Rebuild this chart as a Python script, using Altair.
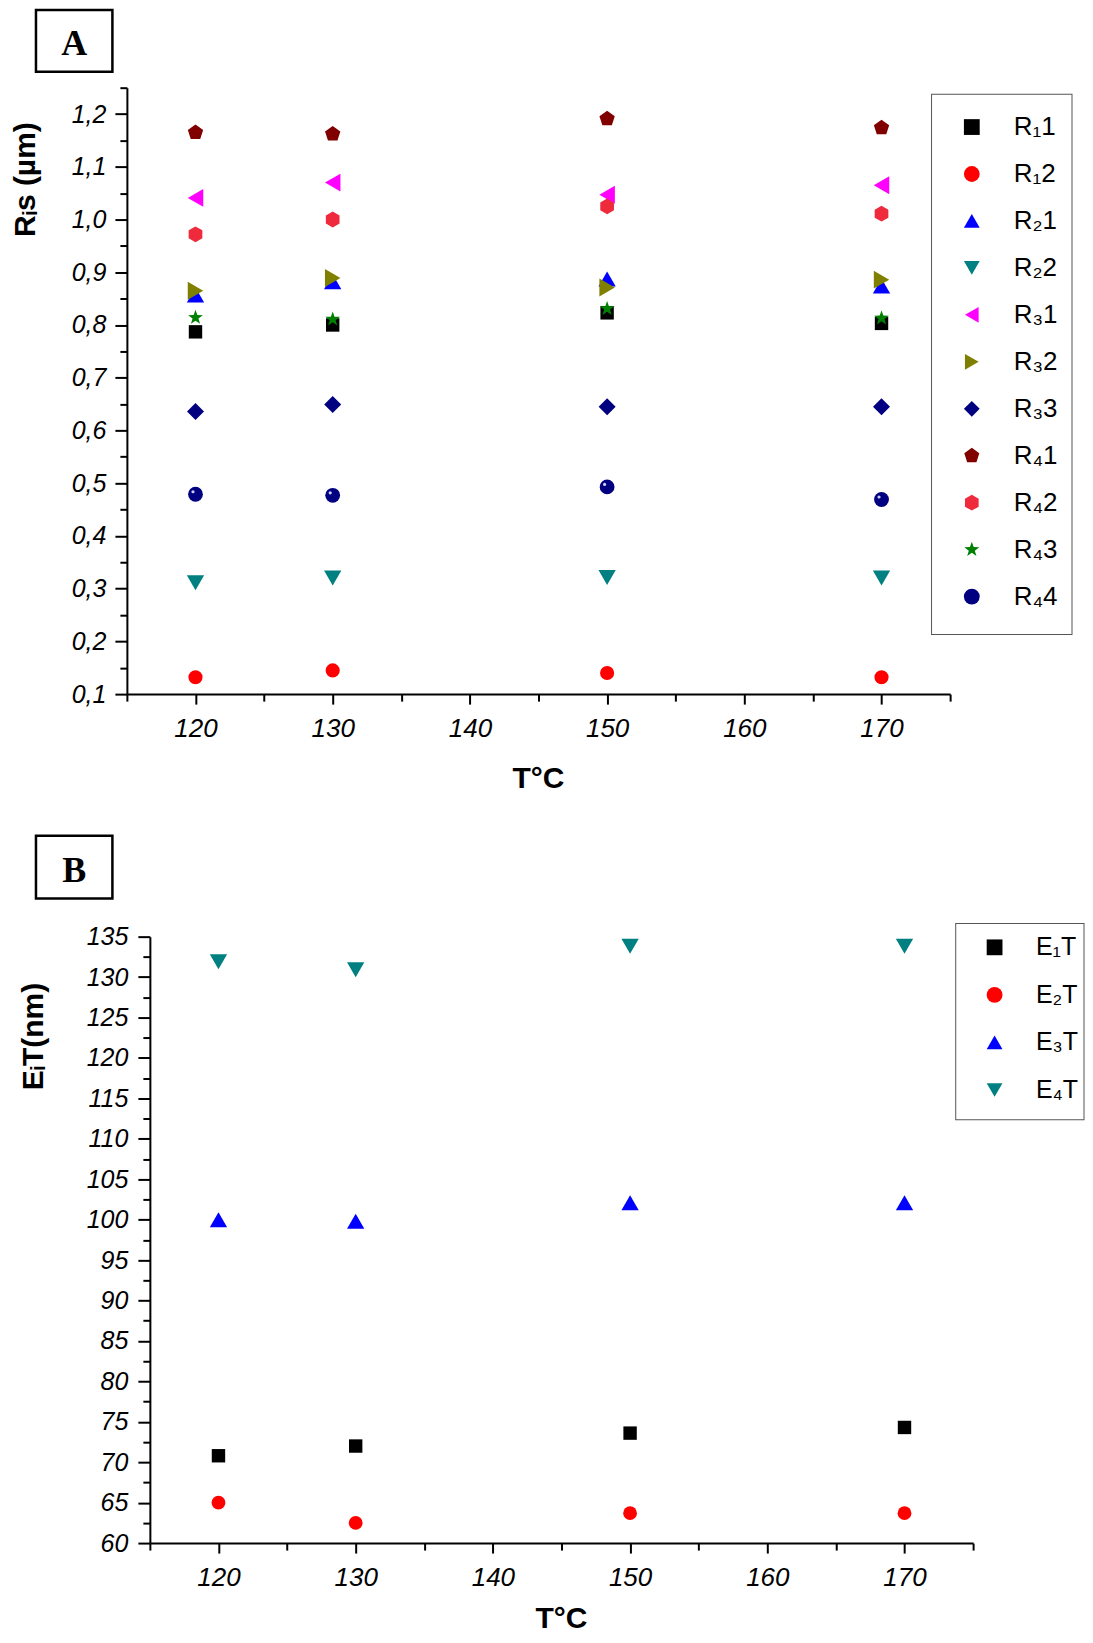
import altair as alt
import pandas as pd

# ---------------- data ----------------
temps = [120, 130, 150, 170]

# Panel A  (Ri s, µm)
a_series = ["R₁1", "R₁2", "R₂1", "R₂2", "R₃1", "R₃2", "R₃3", "R₄1", "R₄2", "R₄3", "R₄4"]
R1_1 = [0.787, 0.800, 0.823, 0.803]
R1_2 = [0.132, 0.145, 0.140, 0.132]
R2_1 = [0.857, 0.882, 0.887, 0.874]
R2_2 = [0.311, 0.320, 0.321, 0.320]
R3_1 = [1.041, 1.070, 1.047, 1.065]
R3_2 = [0.865, 0.889, 0.871, 0.886]
R3_3 = [0.636, 0.649, 0.645, 0.645]
R4_1 = [1.165, 1.162, 1.191, 1.174]
R4_2 = [0.972, 1.000, 1.025, 1.011]
R4_3 = [0.814, 0.811, 0.831, 0.813]
R4_4 = [0.479, 0.477, 0.493, 0.469]
a_values = [R1_1, R1_2, R2_1, R2_2, R3_1, R3_2, R3_3, R4_1, R4_2, R4_3, R4_4]

# Panel B  (Ei T, nm)
b_series = ["E₁T", "E₂T", "E₃T", "E₄T"]
E1T = [70.8, 72.0, 73.6, 74.3]
E2T = [65.0, 62.5, 63.7, 63.7]
E3T = [100.0, 99.8, 102.1, 102.1]
E4T = [131.9, 130.9, 133.8, 133.8]
b_values = [E1T, E2T, E3T, E4T]

# tick values
x_major = [120, 130, 140, 150, 160, 170]
x_minor = [115, 125, 135, 145, 155, 165, 175]
ya_major = [0.1, 0.2, 0.3, 0.4, 0.5, 0.6, 0.7, 0.8, 0.9, 1.0, 1.1, 1.2]
ya_minor = [0.15, 0.25, 0.35, 0.45, 0.55, 0.65, 0.75, 0.85, 0.95, 1.05, 1.15, 1.25]
yb_major = [60, 65, 70, 75, 80, 85, 90, 95, 100, 105, 110, 115, 120, 125, 130, 135]
yb_minor = [62.5, 67.5, 72.5, 77.5, 82.5, 87.5, 92.5, 97.5, 102.5, 107.5, 112.5, 117.5, 122.5, 127.5, 132.5]

# titles
x_title = "T°C"
ya_title = "Rᵢs (µm)"
yb_title = "EᵢT(nm)"

# ---------------- styles ----------------
PENTAGON = "M0,-1L0.951,-0.309L0.588,0.809L-0.588,0.809L-0.951,-0.309Z"
HEXAGON = "M0,-1L0.866,-0.5L0.866,0.5L0,1L-0.866,0.5L-0.866,-0.5Z"
STAR = ("M0,-1L0.235,-0.324L0.951,-0.309L0.380,0.124L0.588,0.809L0,0.4"
        "L-0.588,0.809L-0.380,0.124L-0.951,-0.309L-0.235,-0.324Z")

a_colors = ["#000000", "#FF0000", "#0000FF", "#008080", "#FF00FF", "#808000",
            "#000080", "#800000", "#EE2A3C", "#008000", "#000080"]
a_shapes = ["square", "circle", "triangle-up", "triangle-down", "triangle-left",
            "triangle-right", "diamond", PENTAGON, HEXAGON, STAR, "circle"]
a_sizes = [180, 200, 300, 300, 320, 320, 290, 260, 250, 240, 220]

b_colors = ["#000000", "#FF0000", "#0000FF", "#008080"]
b_shapes = ["square", "circle", "triangle-up", "triangle-down"]
b_sizes = [180, 190, 300, 300]

FONT = "Liberation Sans"
PLOT_W = 824
PLOT_H = 607


def make_df(series, values, sizes):
    rows = []
    for name, vals, sz in zip(series, values, sizes):
        for t, v in zip(temps, vals):
            rows.append({"T": t, "v": v, "s": name, "sz": sz})
    return pd.DataFrame(rows)


df_a = make_df(a_series, a_values, a_sizes)
df_b = make_df(b_series, b_values, b_sizes)
one = pd.DataFrame({"k": [0]})


def x_axis_major():
    return alt.Axis(orient="bottom", values=x_major, tickSize=10, tickWidth=2, tickColor="black",
                    domainColor="black", domainWidth=2, labelPadding=11, labelFontSize=26,
                    labelFont=FONT, labelFontStyle="italic", labelColor="black",
                    labelOverlap=False, grid=False, title=None)


def x_axis_minor():
    return alt.Axis(orient="bottom", values=x_minor, tickSize=7, tickWidth=2, tickColor="black",
                    domain=False, labels=False, grid=False, title=None)


def y_axis_major(vals, offset, pad, expr):
    kw = dict(orient="left", values=vals, tickSize=12, tickWidth=2, tickColor="black",
              domainColor="black", domainWidth=2, labelPadding=pad, labelFontSize=25,
              labelFont=FONT, labelFontStyle="italic", labelColor="black",
              labelOverlap=False, grid=False, title=None, offset=offset)
    if expr:
        kw["labelExpr"] = expr
    return alt.Axis(**kw)


def y_axis_minor(vals, offset):
    return alt.Axis(orient="left", values=vals, tickSize=7, tickWidth=2, tickColor="black",
                    domain=False, labels=False, grid=False, title=None, offset=offset)


def legend(x, y, sym_off, lab_off, row_pad, font_size):
    return alt.Legend(title=None, orient="none", legendX=x, legendY=y, direction="vertical",
                      padding=2, rowPadding=row_pad, symbolSize=250, symbolOffset=sym_off,
                      symbolStrokeWidth=0, labelOffset=lab_off, labelFontSize=font_size,
                      labelFont=FONT, labelColor="black", labelLimit=200,
                      strokeColor="transparent")


def frame(x0, x1, y0, y1, sw, color):
    """A stroked box drawn as two filled rects (outer line colour, inner white)."""
    h = sw / 2.0
    outer = alt.Chart(one).mark_rect(color=color, strokeWidth=0).encode(
        x=alt.value(x0 - h), x2=alt.value(x1 + h), y=alt.value(y0 - h), y2=alt.value(y1 + h))
    inner = alt.Chart(one).mark_rect(color="white", strokeWidth=0).encode(
        x=alt.value(x0 + h), x2=alt.value(x1 - h), y=alt.value(y0 + h), y2=alt.value(y1 - h))
    return [outer, inner]


def letter_box(box, letter):
    bx0, bx1, by0, by1, tx, ty = box
    txt = alt.Chart(one).mark_text(text=letter, font="Liberation Serif", fontWeight="bold",
                                   fontSize=36, align="center", baseline="alphabetic",
                                   color="black").encode(x=alt.value(tx), y=alt.value(ty))
    return frame(bx0, bx1, by0, by1, 2.5, "black") + [txt]


def title_text(text, x, y, angle, baseline):
    return alt.Chart(one).mark_text(text=text, font=FONT, fontWeight="bold", fontSize=30,
                                    align="center", baseline=baseline, angle=angle,
                                    color="black").encode(x=alt.value(x), y=alt.value(y))


def panel(df, series, colors, shapes, xscale, yscale, y_major_axis, y_minor_vals, y_off,
          leg, width, extra_back, extra_front):
    pts = alt.Chart(df).mark_point(filled=True, opacity=1, strokeWidth=0).encode(
        x=alt.X("T:Q", scale=xscale, axis=x_axis_major()),
        y=alt.Y("v:Q", scale=yscale, axis=y_major_axis),
        color=alt.Color("s:N", scale=alt.Scale(domain=series, range=colors), legend=leg),
        shape=alt.Shape("s:N", scale=alt.Scale(domain=series, range=shapes), legend=leg),
        size=alt.Size("sz:Q", scale=None),
    )
    minor = alt.Chart(df).mark_point(opacity=0).encode(
        x=alt.X("T:Q", scale=xscale, axis=x_axis_minor()),
        y=alt.Y("v:Q", scale=yscale, axis=y_axis_minor(y_minor_vals, y_off)),
    )
    layers = extra_back + [minor, pts] + extra_front
    return alt.layer(*layers).resolve_axis(x="independent", y="independent").properties(
        width=width, height=PLOT_H)


# ---------------- Panel A ----------------
xscale_a = alt.Scale(domain=[115, 175], nice=False, zero=False)
ya_scale = alt.Scale(domain=[0.1, 1.25], nice=False, zero=False)
ya_axis = y_axis_major(ya_major, 0, 9, "replace(format(datum.value, '.1f'), '.', ',')")
hl = alt.Chart(df_a).transform_filter(alt.datum.s == "R₄4").mark_circle(
    size=10, color="#d0d0f4", opacity=1, xOffset=-2.5, yOffset=-2.5).encode(
    x=alt.X("T:Q", scale=xscale_a, axis=None),
    y=alt.Y("v:Q", scale=ya_scale, axis=None))
marker = alt.Chart(one).mark_rule(color="white", strokeWidth=1, strokeCap="butt").encode(
    x=alt.value(-118), x2=alt.value(-117), y=alt.value(300), y2=alt.value(300))
titles_a = [title_text(ya_title, -92, 92, 270, "alphabetic"),
            title_text(x_title, PLOT_W / 2, PLOT_H + 70, 0, "top")]
panel_a = panel(df_a, a_series, a_colors, a_shapes, xscale_a, ya_scale, ya_axis, ya_minor, 0,
                legend(805.4, 24.4, 25.3, 28.9, 21, 26), PLOT_W,
                frame(805.4, 946, 6.6, 547.3, 1, "#555555"),
                [hl] + letter_box((-91, -14.5, -77.75, -16, -52.8, -32.5), "A") + titles_a + [marker])

# ---------------- Panel B ----------------
# its y axis sits 23 px right of panel A's (shift via range + axis offset)
SHIFT = 23
xscale_b = alt.Scale(domain=[115, 175], nice=False, zero=False, range=[SHIFT, SHIFT + PLOT_W])
yb_scale = alt.Scale(domain=[60, 135], nice=False, zero=False)
yb_axis = y_axis_major(yb_major, -SHIFT, 10, None)
titles_b = [title_text(yb_title, SHIFT - 107, 100, 270, "alphabetic"),
            title_text(x_title, SHIFT + PLOT_W / 2, PLOT_H + 61, 0, "top")]
panel_b = panel(df_b, b_series, b_colors, b_shapes, xscale_b, yb_scale, yb_axis, yb_minor, -SHIFT,
                legend(829.6, -3.8, 24.4, 28.9, 21.6, 25), PLOT_W + SHIFT,
                frame(829.6, 958, -13.2, 183.4, 1, "#555555"),
                letter_box((-114 + SHIFT, -37.5 + SHIFT, -101, -38.3, -75.8 + SHIFT, -54.3), "B")
                + titles_b)

chart = alt.concat(panel_a, panel_b, columns=1, spacing=39.75, align="each", bounds="full").resolve_scale(
    x="independent", y="independent", color="independent", shape="independent"
).resolve_legend(color="independent", shape="independent").properties(
    padding={"left": 0, "top": 0, "right": 0, "bottom": 0}, background="white"
).configure_view(stroke="transparent", strokeWidth=0)

chart.save("out.html", embed_options={"renderer": "svg", "actions": False})
